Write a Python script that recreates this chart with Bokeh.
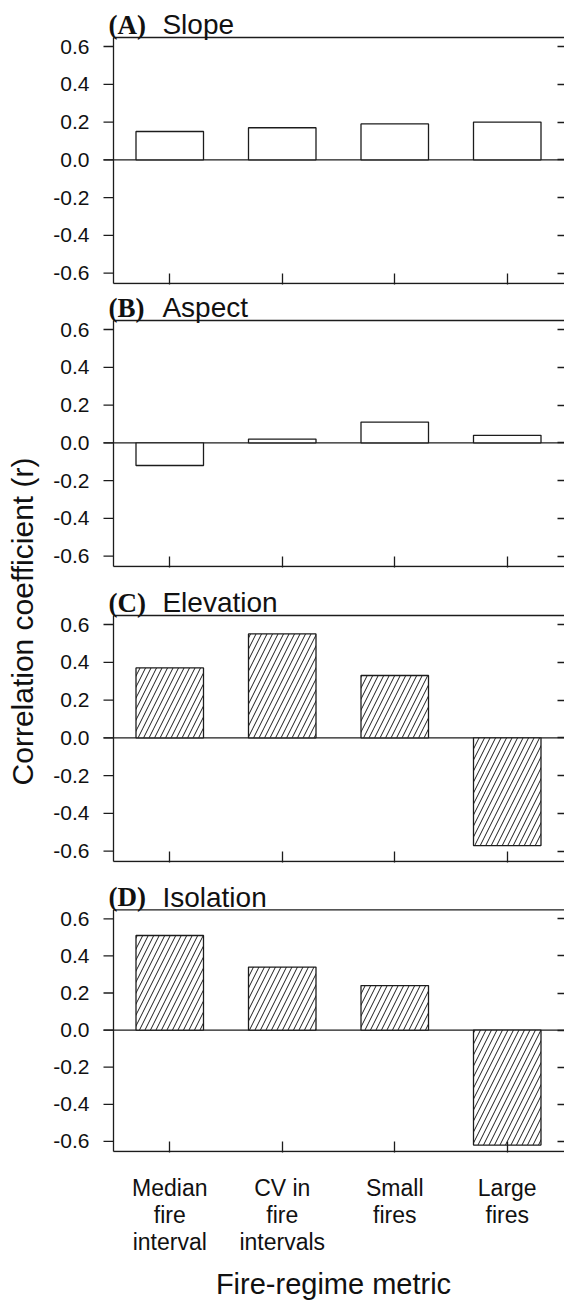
import math
from bokeh.plotting import figure
from bokeh.models import Range1d, LinearAxis, FixedTicker, Span, Label, ColumnDataSource
from bokeh.layouts import row, column
from bokeh.embed import file_html
from bokeh.resources import INLINE

# ---------------- data ----------------
categories = ["Median\nfire\ninterval", "CV in\nfire\nintervals", "Small\nfires", "Large\nfires"]
slope = [0.15, 0.17, 0.19, 0.20]
aspect = [-0.12, 0.02, 0.11, 0.04]
elevation = [0.37, 0.55, 0.33, -0.57]
isolation = [0.51, 0.34, 0.24, -0.62]
panel_letters = ["(A)", "(B)", "(C)", "(D)"]
panel_names = ["Slope", "Aspect", "Elevation", "Isolation"]
y_ticks = [-0.6, -0.4, -0.2, 0.0, 0.2, 0.4, 0.6]
y_tick_labels = ["-0.6", "-0.4", "-0.2", "0.0", "0.2", "0.4", "0.6"]
y_label = "Correlation coefficient (r)"
x_label = "Fire-regime metric"

# ---------------- style / layout ----------------
LINE = "#1c1c1c"
TXT = "#111111"
LW = 1.3
SANS = "Liberation Sans"
SERIF = "Liberation Serif"
PX_PER_UNIT = 188.9          # vertical pixels per unit of r
PX_PER_CAT = 112.5           # horizontal pixels per category
YL_W = 40                    # width of the y-label strip
PANEL_W = 564 - YL_W
BORDER_L = 62                # frame starts 11px left of the box (room for ticks/headings)
PAD_L = 11                   # px between frame left edge and box left edge
TICK_L = 10                  # outward left tick length (px)
Y_MIN = -0.6 - 10.3 / PX_PER_UNIT      # box bottom
Y_MAX = 0.6 + 9.0 / PX_PER_UNIT        # box top
X_START = -PAD_L / PX_PER_CAT
X_END = (PANEL_W - BORDER_L - PAD_L) / PX_PER_CAT
centers = [i + 0.5 for i in range(len(categories))]


def make_panel(vals, letter, name, hatched, height, head_px, bottom, last):
    y_top = Y_MAX + head_px / PX_PER_UNIT
    y_bot = Y_MIN - 1.0 / PX_PER_UNIT
    p = figure(width=PANEL_W, height=height, output_backend="svg", toolbar_location=None,
               x_range=Range1d(X_START, X_END), y_range=Range1d(y_bot, y_top),
               x_axis_type=None, y_axis_type=None,
               min_border_left=BORDER_L, min_border_right=0,
               min_border_top=0, min_border_bottom=bottom - 1)
    p.outline_line_color = None
    p.background_fill_color = "white"
    p.border_fill_color = "white"

    # left axis: labels only (ticks and line drawn as segments)
    la = LinearAxis(ticker=FixedTicker(ticks=y_ticks),
                    major_label_overrides=dict(zip(y_ticks, y_tick_labels)))
    la.major_tick_out = 0
    la.major_tick_in = 0
    la.minor_tick_out = 0
    la.minor_tick_in = 0
    la.axis_line_color = None
    la.major_tick_line_color = None
    la.major_label_standoff = 13
    la.major_label_text_font = SANS
    la.major_label_text_font_size = "21px"
    la.major_label_text_color = TXT
    p.add_layout(la, "left")

    # right axis (ticks only, inward)
    ra = LinearAxis(ticker=FixedTicker(ticks=y_ticks),
                    major_label_overrides={t: "" for t in y_ticks})
    ra.major_tick_out = 0
    ra.major_tick_in = 7
    ra.minor_tick_out = 0
    ra.minor_tick_in = 0
    ra.axis_line_color = None
    ra.major_tick_line_color = LINE
    ra.major_tick_line_width = LW
    ra.major_label_standoff = 0
    ra.major_label_text_font_size = "0px"
    p.add_layout(ra, "right")

    # bottom axis (ticks inward, line drawn as a segment)
    if last:
        ba = LinearAxis(ticker=FixedTicker(ticks=centers),
                        major_label_overrides=dict(zip(centers, categories)))
        ba.major_label_text_font = SANS
        ba.major_label_text_font_size = "23px"
        ba.major_label_text_line_height = 1.05
        ba.major_label_text_color = TXT
        ba.major_label_standoff = 22
        ba.axis_label = x_label
        ba.axis_label_text_font = SANS
        ba.axis_label_text_font_size = "29px"
        ba.axis_label_text_font_style = "normal"
        ba.axis_label_text_color = TXT
        ba.axis_label_standoff = 10
    else:
        ba = LinearAxis(ticker=FixedTicker(ticks=centers),
                        major_label_overrides={c: "" for c in centers})
        ba.major_label_standoff = 0
        ba.major_label_text_font_size = "0px"
    ba.major_tick_out = 0
    ba.major_tick_in = 11
    ba.minor_tick_out = 0
    ba.minor_tick_in = 0
    ba.axis_line_color = None
    ba.major_tick_line_color = LINE
    ba.major_tick_line_width = LW
    p.add_layout(ba, "below")

    # box: left, top and bottom lines
    p.segment(x0=[0, 0, 0], y0=[Y_MIN, Y_MAX, Y_MIN],
              x1=[0, X_END + 1, X_END + 1], y1=[Y_MAX, Y_MAX, Y_MIN],
              line_color=LINE, line_width=LW)
    # outward left ticks
    p.segment(x0=[-TICK_L / PX_PER_CAT] * len(y_ticks), y0=y_ticks,
              x1=[0] * len(y_ticks), y1=y_ticks, line_color=LINE, line_width=LW)
    # zero line
    p.segment(x0=[-TICK_L / PX_PER_CAT], y0=[0], x1=[X_END + 1], y1=[0],
              line_color=LINE, line_width=LW)

    src = ColumnDataSource(dict(x=centers, top=vals))
    kw = dict(x="x", top="top", bottom=0, width=0.6, source=src,
              fill_color="white", line_color=LINE, line_width=LW)
    if hatched:
        kw.update(hatch_pattern="/", hatch_color=LINE, hatch_scale=11, hatch_weight=1)
    p.vbar(**kw)

    base = Y_MAX + 13.0 / PX_PER_UNIT
    p.add_layout(Label(x=-0.045, y=base, text=letter,
                       text_font=SERIF, text_font_style="bold", text_font_size="27px",
                       text_color=TXT, text_align="left", text_baseline="alphabetic"))
    p.add_layout(Label(x=0.435, y=base, text=name,
                       text_font=SANS, text_font_size="28px",
                       text_color=TXT, text_align="left", text_baseline="alphabetic"))
    return p


# height, pixels of heading above the box, bottom border
pA = make_panel(slope, panel_letters[0], panel_names[0], False, 292, 37, 9, False)
pB = make_panel(aspect, panel_letters[1], panel_names[1], False, 293, 28, 19, False)
pC = make_panel(elevation, panel_letters[2], panel_names[2], True, 295, 30, 19, False)
pD = make_panel(isolation, panel_letters[3], panel_names[3], True, 423, 30, 147, True)

yl = figure(width=YL_W, height=1303, output_backend="svg", toolbar_location=None,
            x_range=Range1d(0, 1), y_range=Range1d(0, 1),
            x_axis_type=None, y_axis_type=None, min_border=0)
yl.outline_line_color = None
yl.add_layout(Label(x=0.55, y=(1303 - 621) / 1303, text=y_label, angle=math.pi / 2,
                    text_font=SANS, text_font_size="30px", text_color=TXT,
                    text_align="center", text_baseline="middle"))

layout = row(yl, column(pA, pB, pC, pD))

open("out.html", "w").write(file_html(layout, INLINE))
